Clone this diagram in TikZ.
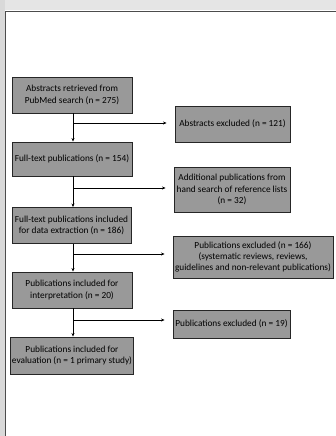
\documentclass[tikz,border=0pt]{standalone}
\usepackage{fontspec}
\setmainfont{Carlito}
\usetikzlibrary{arrows.meta}
\begin{document}
\begin{tikzpicture}[x=1pt,y=-1pt,
  box/.style={draw=black!85,line width=0.9pt,fill=black!40,align=center,inner sep=1pt,
    font=\fontsize{9.3}{11.2}\selectfont,text=black},
  flow/.style={draw=black,line width=0.6pt,-{Stealth[length=3.5pt,width=3pt]}},
  branch/.style={flow,shorten >=8pt}]
\useasboundingbox (0,0) rectangle (336,436);
\fill[white] (0,0) rectangle (336,436);
% page frame of the scan
\fill[black!15] (0,0) rectangle (4.5,436);
\fill[black!10] (5,0) rectangle (336,10.5);
\draw[black!70,line width=0.8pt] (5,436) -- (5,11) -- (336,11);

\node[box,minimum width=120pt,minimum height=36pt] (b1) at (72,95)
  {Abstracts retrieved from\\PubMed search (n = 275)};
\node[box,minimum width=120pt,minimum height=34pt] (b2) at (72,159)
  {Full-text publications (n = 154)};
\node[box,minimum width=119pt,minimum height=36pt] (b3) at (71.5,225.5)
  {Full-text publications included\\for data extraction (n = 186)};
\node[box,minimum width=120pt,minimum height=36pt] (b4) at (72,290)
  {Publications included for\\interpretation (n = 20)};
\node[box,minimum width=120pt,minimum height=37pt] (b5) at (72,355.5)
  {Publications included for\\evaluation (n = 1 primary study)};

\node[box,minimum width=115pt,minimum height=36pt] (r1) at (232.5,124)
  {Abstracts excluded (n = 121)};
\node[box,minimum width=116pt,minimum height=45pt] (r2) at (232,189.5)
  {Additional publications from\\hand search of reference lists\\(n = 32)};
\node[box,minimum width=160pt,minimum height=42pt] (r3) at (253,257)
  {Publications excluded (n = 166)\\(systematic reviews, reviews,\\guidelines and non-relevant publications)};
\node[box,minimum width=117pt,minimum height=28pt] (r4) at (231.5,324)
  {Publications excluded (n = 19)};

\coordinate (j1) at (73,123);
\coordinate (j2) at (73,188);
\coordinate (j3) at (73,254);
\coordinate (j4) at (73,320);

\draw[flow] (b1.south -| j1) -- (b2.north -| j1);
\draw[flow] (b2.south -| j2) -- (b3.north -| j2);
\draw[flow] (b3.south -| j3) -- (b4.north -| j3);
\draw[flow] (b4.south -| j4) -- (b5.north -| j4);

\draw[branch] (j1) -- (j1 -| r1.west);
\draw[branch] (j2) -- (j2 -| r2.west);
\draw[branch] (j3) -- (j3 -| r3.west);
\draw[branch] (j4) -- (j4 -| r4.west);
\end{tikzpicture}
\end{document}
